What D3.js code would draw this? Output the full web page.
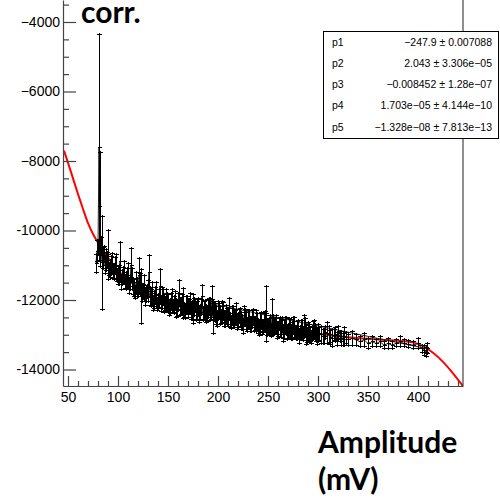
<!DOCTYPE html>
<html>
<head>
<script src="https://d3js.org/d3.v7.min.js"></script>
<style>
  body { margin: 0; background: #fff; }
  svg { display: block; }
</style>
</head>
<body>
<svg width="500" height="498"></svg>
<script>
// graph points: amplitude (mV), correction value, error
const ampX = [78, 79, 80, 81, 81.5, 82, 83, 84, 85, 86, 87, 88, 90, 92, 94, 96, 98, 100, 102, 104,
  106, 108, 110, 112, 113, 114, 116, 118, 120, 121, 122, 123, 124, 126, 128, 130, 131, 132, 134, 136,
  138, 140, 142, 144, 146, 148, 150, 152, 154, 156, 158, 160, 161, 162, 164, 165, 166, 168, 170, 172,
  174, 175, 176, 178, 180, 182, 184, 186, 188, 190, 192, 194, 195, 196, 198, 200, 202, 204, 206, 208,
  210, 211, 212, 214, 216, 218, 220, 222, 224, 226, 228, 230, 232, 234, 236, 238, 240, 242, 244, 246,
  248, 250, 252, 254, 256, 258, 260, 262, 264, 266, 268, 270, 272, 274, 276, 278, 280, 282, 284, 286,
  288, 290, 292, 294, 296, 298, 300, 303, 306, 309, 311, 314, 317, 320, 323, 326, 330, 334, 338, 342,
  346, 350, 354, 358, 362, 366, 370, 374, 378, 382, 386, 390, 395, 400, 404, 406, 408, 409];
const corrY = [-10950, -10600, -10500, -7600, -9300, -10700, -10450, -10930, -10800, -10650, -11000, -10850, -10700, -11100, -10950, -11200, -11050, -11300, -10900, -11350,
  -11200, -11450, -11300, -11500, -11000, -11400, -11650, -11500, -11700, -11300, -11550, -11900, -11800, -11650, -11850, -11750, -11200, -11900, -11800, -12000,
  -11850, -12050, -11600, -11950, -12100, -12000, -12100, -12200, -12000, -12150, -12250, -12050, -11800, -12200, -12100, -12100, -12300, -12150, -12250, -12100,
  -12300, -12250, -12200, -12350, -12200, -12350, -11900, -12300, -12400, -12250, -12400, -12000, -12500, -12350, -12450, -12300, -12450, -12350, -12550, -12400,
  -12500, -12250, -12600, -12450, -12550, -12400, -12600, -12500, -12650, -12450, -12600, -12550, -12700, -12550, -12700, -12600, -12750, -12650, -12800, -12650,
  -12400, -12750, -12700, -12500, -12800, -12700, -12850, -12750, -12700, -12850, -12750, -12900, -12800, -12900, -12800, -12950, -12850, -12950, -12850, -12750,
  -13000, -12900, -13000, -12950, -12850, -13000, -12950, -13000, -13050, -12950, -13000, -13100, -13000, -12950, -13100, -13050, -13150, -13100, -13150, -13200,
  -13150, -13250, -13200, -13250, -13200, -13300, -13250, -13300, -13250, -13200, -13250, -13280, -13300, -13250, -13400, -13450, -13500, -13400];
const corrErr = [250, 300, 200, 3250, 1550, 350, 250, 1340, 300, 200, 250, 300, 700, 250, 300, 200, 350, 250, 550, 200,
  300, 250, 350, 200, 480, 300, 250, 300, 200, 480, 300, 770, 250, 350, 200, 300, 470, 250, 300, 250,
  350, 200, 480, 300, 250, 300, 250, 200, 300, 250, 250, 250, 350, 250, 250, 430, 200, 250, 250, 300,
  250, 420, 250, 250, 250, 200, 330, 250, 250, 250, 200, 400, 460, 250, 250, 250, 250, 300, 200, 250,
  250, 300, 200, 250, 250, 300, 200, 250, 200, 250, 250, 250, 200, 250, 200, 300, 200, 250, 200, 250,
  800, 200, 250, 520, 200, 250, 200, 250, 200, 250, 250, 200, 250, 250, 300, 200, 250, 200, 250, 300,
  270, 250, 200, 200, 250, 200, 250, 250, 200, 300, 230, 250, 200, 200, 200, 250, 150, 200, 150, 150,
  200, 150, 150, 100, 150, 100, 150, 100, 100, 150, 100, 100, 100, 150, 100, 150, 120, 150];

// second run of points filling the dense band
const ampX2 = [89, 91, 93, 95, 97, 99, 101, 103, 105, 107, 109, 111, 115, 117, 119, 125, 127, 129, 133, 135,
  137, 139, 141, 143, 145, 147, 149, 151, 153, 155, 157, 159, 163, 167, 169, 171, 173, 177, 179, 181,
  183, 185, 187, 189, 191, 193, 197, 199, 201, 203, 205, 207, 209, 213, 215, 217, 219, 221, 223, 225,
  227, 229, 231, 233, 235, 237, 239, 241, 243, 245, 247, 249, 251, 253, 255, 257, 259, 261, 263, 265,
  267, 269, 271, 273, 275, 277, 279, 281, 283, 285, 287, 289, 291, 293, 295, 297, 299, 301, 305, 307,
  312, 316, 319, 322, 325, 328];
const corrY2 = [-10850, -11120, -10990, -11180, -11000, -11290, -11280, -11500, -11290, -11480, -11350, -11620, -11600, -11780, -11630, -11760, -11930, -11760, -11940, -12110,
  -11880, -12120, -11960, -12120, -11910, -12120, -12070, -12250, -12030, -12200, -12020, -12270, -12190, -12340, -12150, -12200, -12340, -12160, -12300, -12450,
  -12200, -12410, -12260, -12410, -12200, -12400, -12370, -12550, -12320, -12490, -12310, -12560, -12480, -12640, -12460, -12500, -12640, -12460, -12600, -12750,
  -12500, -12730, -12560, -12710, -12490, -12690, -12640, -12820, -12600, -12760, -12580, -12820, -12740, -12880, -12690, -12740, -12880, -12690, -12830, -12980,
  -12730, -12960, -12790, -12940, -12720, -12920, -12870, -13050, -12820, -12980, -12795, -13030, -12940, -13075, -12880, -12915, -13050, -12980, -13060, -12940,
  -13080, -13020, -13120, -13050, -13140, -13090];
const corrErr2 = [220, 180, 250, 200, 230, 170, 260, 210, 220, 180, 250, 200, 230, 170, 260, 210, 220, 180, 250, 200,
  230, 170, 260, 210, 220, 180, 250, 200, 230, 170, 260, 210, 220, 180, 250, 200, 230, 170, 260, 210,
  220, 180, 250, 200, 230, 170, 260, 210, 220, 180, 250, 200, 230, 170, 260, 210, 220, 180, 250, 200,
  230, 170, 260, 210, 220, 180, 250, 200, 230, 170, 260, 210, 220, 180, 250, 200, 230, 170, 260, 210,
  220, 180, 250, 200, 230, 170, 260, 210, 220, 180, 250, 200, 230, 170, 260, 210, 220, 180, 200, 170,
  200, 160, 190, 150, 180, 160];

// last point of the graph, it closes the polyline back into the band
const lastX = [192];
const lastY = [-12100];
const lastErr = [150];

// fitted curve
const fitX = [46, 50, 55, 60, 65, 70, 75, 80, 90, 100, 120, 150, 180, 210, 240, 270, 300, 330, 360, 380, 395, 405, 415, 425, 435, 445];
const fitY = [-7700, -8050, -8500, -8950, -9380, -9790, -10100, -10350, -10780, -11150, -11650, -12080, -12330, -12530, -12700, -12850, -12970, -13070, -13140, -13170, -13220, -13330, -13520, -13780, -14110, -14480];

const xTicks = [50, 100, 150, 200, 250, 300, 350, 400];
const yTicks = [-4000, -6000, -8000, -10000, -12000, -14000];
const yTickLabels = ["\u22124000", "\u22126000", "\u22128000", "-10000", "-12000", "-14000"];

const parNames = ["p1", "p2", "p3", "p4", "p5"];
const parValues = ["\u2212247.9 \u00b1 0.007088", "2.043 \u00b1 3.306e\u221205", "\u22120.008452 \u00b1 1.28e\u221207",
  "1.703e\u221205 \u00b1 4.144e\u221210", "\u22121.328e\u221208 \u00b1 7.813e\u221213"];

const svg = d3.select("svg");
const x = d3.scaleLinear().domain([45, 445]).range([63, 463]);
const y = d3.scaleLinear().domain([-14475, -3367]).range([386, 0]);

svg.append("clipPath").attr("id", "frame")
  .append("rect").attr("x", 63).attr("y", 0).attr("width", 400).attr("height", 386);

const plot = svg.append("g").attr("clip-path", "url(#frame)");

// fit drawn under the graph
plot.append("path")
  .datum(fitX.map((v, i) => [v, fitY[i]]))
  .attr("fill", "none")
  .attr("stroke", "#ff0000")
  .attr("stroke-width", 2)
  .attr("d", d3.line().x(d => x(d[0])).y(d => y(d[1])).curve(d3.curveMonotoneX));

const toPts = (xs, ys, es) => xs.map((v, i) => ({ x: v, y: ys[i], e: es[i] }));
const pts = toPts(ampX, corrY, corrErr).concat(toPts(ampX2, corrY2, corrErr2))
  .sort((a, b) => a.x - b.x)
  .concat(toPts(lastX, lastY, lastErr));

plot.append("path")
  .datum(pts)
  .attr("fill", "none")
  .attr("stroke", "#222")
  .attr("stroke-width", 1)
  .attr("d", d3.line().x(d => x(d.x)).y(d => y(d.y)));

const bars = plot.append("g").attr("stroke", "#000").attr("stroke-width", 1)
  .attr("shape-rendering", "crispEdges");
bars.selectAll("line.err").data(pts).join("line").attr("class", "err")
  .attr("x1", d => x(d.x) + 0.5).attr("x2", d => x(d.x) + 0.5)
  .attr("y1", d => y(d.y + d.e) - 1.5).attr("y2", d => y(d.y - d.e) + 1.5);
bars.selectAll("line.top").data(pts).join("line").attr("class", "top")
  .attr("x1", d => x(d.x) - 2).attr("x2", d => x(d.x) + 3)
  .attr("y1", d => y(d.y + d.e)).attr("y2", d => y(d.y + d.e));
bars.selectAll("line.bot").data(pts).join("line").attr("class", "bot")
  .attr("x1", d => x(d.x) - 2).attr("x2", d => x(d.x) + 3)
  .attr("y1", d => y(d.y - d.e)).attr("y2", d => y(d.y - d.e));
bars.selectAll("line.mk").data(pts).join("line").attr("class", "mk")
  .attr("x1", d => x(d.x) - 1.5).attr("x2", d => x(d.x) + 2.5)
  .attr("y1", d => y(d.y)).attr("y2", d => y(d.y));

// axes, ROOT style ticks pointing inwards
const axisColor = "#444";
const xMinor = d3.range(50, 445, 10).filter(v => v % 50 !== 0);
const yMinor = d3.range(-14000, -3367, 500).filter(v => v % 2000 !== 0);

svg.append("g").attr("transform", "translate(0,386)")
  .call(d3.axisBottom(x).tickValues(xTicks).tickSize(-10).tickSizeOuter(0).tickPadding(6));
svg.append("g").attr("transform", "translate(0,386)")
  .call(d3.axisBottom(x).tickValues(xMinor).tickSize(-5).tickSizeOuter(0).tickFormat(""))
  .call(g => g.select(".domain").remove());

svg.append("g").attr("transform", "translate(63,0)")
  .call(d3.axisLeft(y).tickValues(yTicks).tickSize(-13).tickSizeOuter(0).tickPadding(3)
    .tickFormat((d, i) => yTickLabels[i]));
svg.append("g").attr("transform", "translate(63,0)")
  .call(d3.axisLeft(y).tickValues(yMinor).tickSize(-6).tickSizeOuter(0).tickFormat(""))
  .call(g => g.select(".domain").remove());

svg.selectAll(".tick line, .domain").attr("stroke", axisColor).attr("stroke-width", 1.2);
svg.selectAll(".tick text")
  .attr("font-family", "Liberation Sans, Arial, sans-serif")
  .attr("font-size", 14)
  .attr("fill", "#000");

svg.append("line")
  .attr("x1", 463).attr("x2", 463).attr("y1", 0).attr("y2", 386)
  .attr("stroke", axisColor).attr("stroke-width", 1.2);

// stats box
const stats = svg.append("g");
stats.append("rect")
  .attr("x", 323.5).attr("y", 31.5).attr("width", 175).attr("height", 107)
  .attr("fill", "#fff").attr("stroke", "#000").attr("stroke-width", 1);
stats.selectAll("text.name").data(parNames).join("text").attr("class", "name")
  .attr("x", 332).attr("y", (d, i) => 45.5 + i * 21.3)
  .attr("font-family", "Liberation Sans, Arial, sans-serif").attr("font-size", 10.5)
  .text(d => d);
stats.selectAll("text.val").data(parValues).join("text").attr("class", "val")
  .attr("x", 492).attr("y", (d, i) => 45.5 + i * 21.3)
  .attr("text-anchor", "end")
  .attr("font-family", "Liberation Sans, Arial, sans-serif").attr("font-size", 10.5)
  .text(d => d);

// slide annotations
const bold = "Lato, 'Open Sans', sans-serif";
svg.append("text").attr("x", 81).attr("y", 23)
  .attr("font-family", bold).attr("font-weight", "bold").attr("font-size", 30)
  .text("corr.");
svg.append("text").attr("x", 318).attr("y", 453)
  .attr("font-family", bold).attr("font-weight", "bold").attr("font-size", 30)
  .text("Amplitude");
svg.append("text").attr("x", 318).attr("y", 490)
  .attr("font-family", bold).attr("font-weight", "bold").attr("font-size", 30)
  .text("(mV)");
</script>
</body>
</html>
